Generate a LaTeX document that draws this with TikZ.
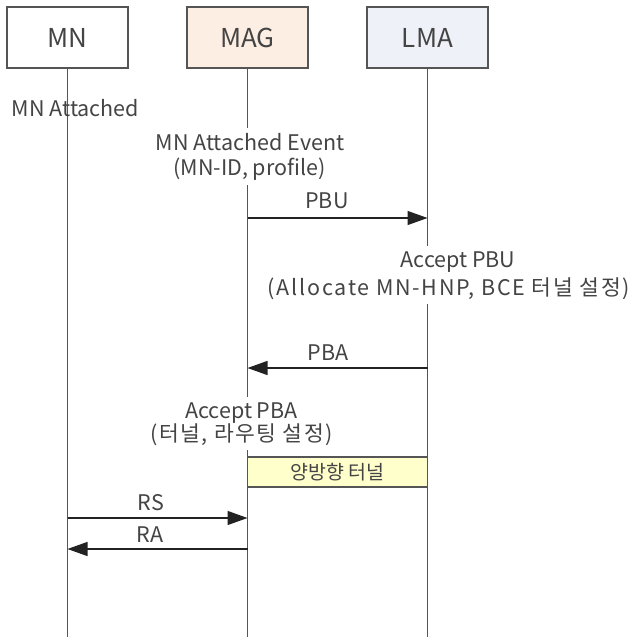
\documentclass[tikz,border=0pt]{standalone}
\usepackage{fontspec}
\setmainfont{Noto Sans CJK KR}
\newfontfamily\spaced[LetterSpace=7]{Noto Sans CJK KR}
\newfontfamily\spacedwide[LetterSpace=8]{Noto Sans CJK KR}
\usetikzlibrary{arrows.meta,fit}
\pgfdeclarelayer{lines}
\pgfdeclarelayer{masks}
\pgfsetlayers{lines,masks,main}
\definecolor{ink}{HTML}{444444}
\definecolor{rule}{HTML}{555555}
\definecolor{arrowink}{HTML}{222222}
\definecolor{magfill}{HTML}{FDEEE3}
\definecolor{lmafill}{HTML}{EEF1F7}
\definecolor{tunfill}{HTML}{FFFFCC}
\tikzset{
  actor/.style={draw=rule, line width=1.3pt, minimum width=121pt, minimum height=61pt,
    inner sep=0pt, font=\fontsize{26}{26}\selectfont, text=ink},
  life/.style={draw=rule, line width=1.3pt},
  msg/.style={draw=arrowink, line width=1.3pt, -{Triangle[length=20pt,width=14pt]}},
  txt/.style={font=\fontsize{21.5}{24}\selectfont, text=ink, inner sep=2pt, anchor=base},
  mask/.style={fill=white, draw=none, inner xsep=2pt, inner ysep=3pt},
  tunnel/.style={draw=rule, line width=1.3pt, fill=tunfill, minimum width=180pt,
    minimum height=30pt, inner sep=0pt, font=\fontsize{19.5}{19.5}\selectfont, text=ink}
}
\begin{document}
\begin{tikzpicture}[x=1pt, y=-1pt]
  \useasboundingbox (0,0) rectangle (634,637);
  % participants
  \node[actor, fill=white] (mn) at (67.5,37.5) {MN};
  \node[actor, fill=magfill] (mag) at (247.5,37.5) {MAG};
  \node[actor, fill=lmafill] (lma) at (427.5,37.5) {LMA};
  % lifelines
  \coordinate (mnEnd) at (67.5,637);
  \coordinate (magEnd) at (247.5,637);
  \coordinate (lmaEnd) at (427.5,637);
  \begin{pgfonlayer}{lines}
    \draw[life] (mn.south) -- (mnEnd);
    \draw[life] (mag.south) -- (magEnd);
    \draw[life] (lma.south) -- (lmaEnd);
  \end{pgfonlayer}
  % message end points on the lifelines
  \coordinate (magPBU) at (247.5,218);
  \coordinate (lmaPBU) at (427.5,218);
  \coordinate (lmaPBA) at (427.5,368);
  \coordinate (magPBA) at (247.5,368);
  \coordinate (mnRS) at (67.5,518);
  \coordinate (magRS) at (247.5,518);
  \coordinate (magRA) at (247.5,549);
  \coordinate (mnRA) at (67.5,549);
  % local events
  \node[txt] (att) at (75.5,116) {MN Attached};
  \node[txt] (attEv) at (250,150) {MN Attached Event};
  \node[txt] (attEvArgs) at (249.5,175) {(MN-ID, profile)};
  \node[txt] (accPBU) at (458,267) {Accept PBU};
  \node[txt, font=\spacedwide\fontsize{21.5}{24}\selectfont] (accPBUArgs) at (449,295)
    {(Allocate MN-HNP, BCE 터널 설정)};
  \node[txt] (accPBA) at (241.5,418) {Accept PBA};
  \node[txt, font=\spaced\fontsize{21.5}{24}\selectfont] (accPBAArgs) at (241.5,441)
    {(터널, 라우팅 설정)};
  % white patches that open the lifelines behind the event texts
  \begin{pgfonlayer}{masks}
    \node[mask, fit=(attEv)(attEvArgs)] (attEvMask) {};
    \node[mask, fit=(accPBU)(accPBUArgs)] (accPBUMask) {};
    \node[mask, fit=(accPBA)(accPBAArgs)] (accPBAMask) {};
  \end{pgfonlayer}
  \node[tunnel] (tun) at (337.5,472) {양방향 터널};
  % messages
  \draw[msg] (magPBU) -- (lmaPBU);
  \draw[msg] (lmaPBA) -- (magPBA);
  \draw[msg] (mnRS) -- (magRS);
  \draw[msg] (magRA) -- (mnRA);
  \node[txt] (pbu) at (327,208) {PBU};
  \node[txt] (pba) at (328,360) {PBA};
  \node[txt] (rs) at (151,510) {RS};
  \node[txt] (ra) at (150,542) {RA};
\end{tikzpicture}
\end{document}
